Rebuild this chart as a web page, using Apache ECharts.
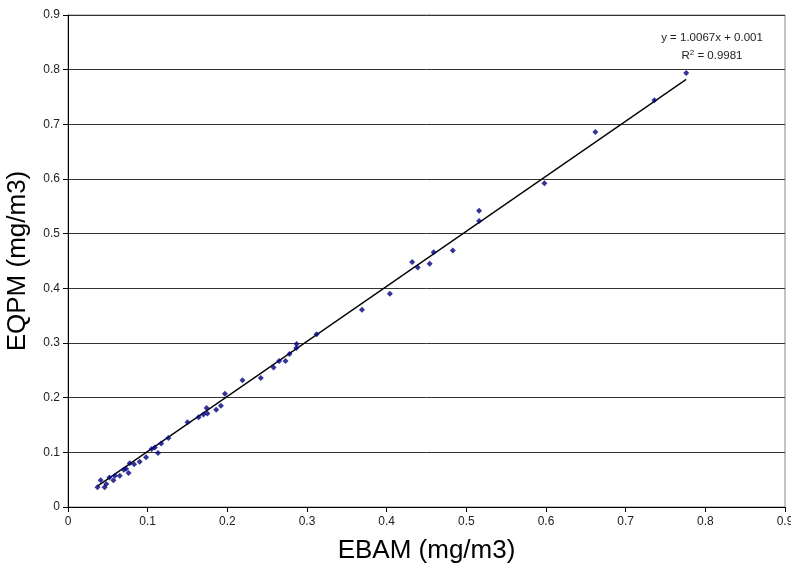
<!DOCTYPE html>
<html>
<head>
<meta charset="utf-8">
<script src="https://cdn.jsdelivr.net/npm/echarts@6/dist/echarts.min.js"></script>
<style>html,body{margin:0;padding:0;background:#fff}#c{width:791px;height:563px}</style>
</head>
<body>
<div id="c"></div>
<script>
// EBAM (x) vs EQPM (y), mg/m3
const ebam = [0.776,0.736,0.662,0.598,0.516,0.516,0.483,0.459,0.454,0.432,0.439,0.404,0.369,
  0.312,0.287,0.2865,0.278,0.273,0.265,0.258,0.242,0.219,0.197,0.192,0.186,0.174,0.175,0.170,0.164,
  0.150,0.126,0.117,0.113,0.109,0.105,0.098,0.090,0.083,0.0775,0.076,0.073,0.070,0.065,0.059,
  0.057,0.052,0.048,0.046,0.041,0.037];
const eqpm = [0.794,0.744,0.686,0.592,0.542,0.523,0.469,0.466,0.445,0.448,0.438,0.390,0.361,
  0.316,0.298,0.291,0.280,0.267,0.267,0.255,0.236,0.232,0.207,0.185,0.178,0.181,0.171,0.169,0.164,
  0.155,0.126,0.116,0.099,0.109,0.106,0.091,0.083,0.078,0.080,0.062,0.070,0.068,0.057,0.057,
  0.049,0.054,0.042,0.036,0.049,0.036];
const slope = 1.0067, intercept = 0.001, r2 = 0.9981;
const axisTicks = [0,0.1,0.2,0.3,0.4,0.5,0.6,0.7,0.8,0.9];

const pts = ebam.map((x,i)=>[x,eqpm[i]]);
const xMin = Math.min(...ebam), xMax = Math.max(...ebam);
const trend = [[xMin, slope*xMin+intercept],[xMax, slope*xMax+intercept]];

const chart = echarts.init(document.getElementById('c'), null, {renderer:'canvas'});
const font = 'Liberation Sans, Arial, sans-serif';
chart.setOption({
  animation:false,
  backgroundColor:'#fff',
  grid:{left:68,right:6,top:15,bottom:56,show:true,borderColor:'#888',borderWidth:1,
    backgroundColor:'transparent',containLabel:false,outerBoundsMode:'none'},
  xAxis:{type:'value',min:axisTicks[0],max:axisTicks[axisTicks.length-1],interval:0.1,
    name:'EBAM (mg/m3)',nameLocation:'middle',nameGap:31,
    nameTextStyle:{fontFamily:font,fontSize:26,color:'#000'},
    axisLine:{show:true,onZero:false,lineStyle:{color:'#000',width:1}},
    axisTick:{show:true,length:5,lineStyle:{color:'#000'}},
    axisLabel:{fontFamily:font,fontSize:12,color:'#222',margin:9,hideOverlap:false},
    splitLine:{show:false}},
  yAxis:{type:'value',min:axisTicks[0],max:axisTicks[axisTicks.length-1],interval:0.1,
    name:'EQPM (mg/m3)',nameLocation:'middle',nameGap:37,
    nameTextStyle:{fontFamily:font,fontSize:26,color:'#000'},
    axisLine:{show:true,onZero:false,lineStyle:{color:'#000',width:1}},
    axisTick:{show:true,length:5,lineStyle:{color:'#000'}},
    axisLabel:{fontFamily:font,fontSize:12,color:'#222',margin:8},
    splitLine:{show:true,lineStyle:{color:'#333',width:1}}},
  series:[
    {type:'line',data:trend,symbol:'none',lineStyle:{color:'#000',width:1.3},z:3,silent:true},
    {type:'scatter',data:pts,symbol:'diamond',symbolSize:6,itemStyle:{color:'#000080'},z:4}
  ],
  graphic:[
    {type:'text',x:712,y:38,style:{text:'y = '+slope.toFixed(4)+'x + '+intercept.toFixed(3),
      fontFamily:font,fontSize:11.5,fill:'#222',align:'center',verticalAlign:'middle'}},
    {type:'text',x:712,y:56,style:{text:'R{s|2} = '+r2.toFixed(4),
      rich:{s:{fontSize:8,verticalAlign:'top',padding:[0,0,6,0],fontFamily:font,fill:'#222'}},
      fontFamily:font,fontSize:11.5,fill:'#222',align:'center',verticalAlign:'middle'}}
  ]
});
</script>
</body>
</html>
